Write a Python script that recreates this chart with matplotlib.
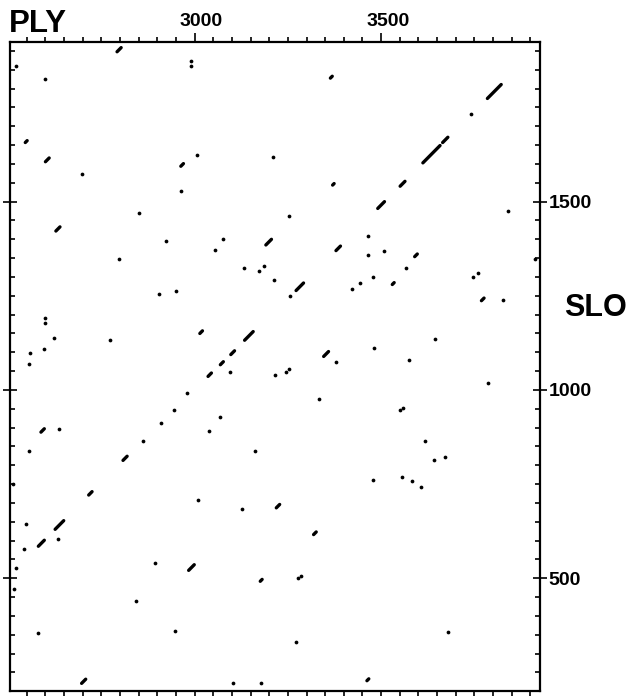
import matplotlib
matplotlib.use("Agg")
import matplotlib.pyplot as plt
from matplotlib.ticker import MultipleLocator, FixedLocator
from matplotlib.transforms import ScaledTranslation

plt.rcParams['font.family'] = ['Liberation Sans', 'DejaVu Sans']

# diagonal matches: start position (PLY, SLO) and length in residues
seg_x = [2792, 2600, 2963, 2628, 3191, 3785, 3612, 3665, 3551, 3491,
         3379, 3590, 3014, 3134, 3097, 3069, 3036, 2588, 2808, 3272,
         3530, 3769, 3346, 2716, 3219, 2626, 2581, 3319, 2984, 2697,
         3462, 2546, 3364, 3176, 3370]
seg_y = [1898, 1606, 1594, 1422, 1385, 1774, 1603, 1657, 1541, 1482,
         1370, 1354, 1150, 1132, 1094, 1067, 1036, 888, 813, 1264,
         1280, 1237, 1089, 721, 687, 630, 585, 616, 521, 221,
         228, 1657, 1828, 492, 1544]
seg_len = [11, 10, 7, 11, 15, 37, 46, 14, 13, 18,
           12, 7, 7, 23, 10, 8, 9, 9, 11, 20,
           5, 7, 13, 9, 9, 23, 16, 7, 15, 11,
           5, 5, 5, 5, 4]

# single-point matches
dot_x = [2522, 2991, 2990, 2600, 2699, 3007, 3211, 2964, 2850, 2922,
         3075, 3054, 2798, 3740, 3840, 3254, 3464, 3466, 3509, 3913,
         3133, 3172, 3187, 3212, 2904, 2949, 2600, 2599, 2622, 2772,
         2595, 2559, 2556, 3095, 3216, 2979, 2944, 2910, 3067, 2636,
         3038, 2861, 2556, 3162, 3256, 3443, 3423, 3479, 3568, 3746,
         3759, 3826, 3645, 3481, 3378, 3576, 3246, 3254, 3787, 3333,
         3550, 3560, 3617, 3642, 3672, 2514, 3479, 3556, 3582, 3608,
         3010, 3126, 2549, 2633, 2542, 2522, 2894, 3276, 3284, 2517,
         2844, 2579, 2948, 3273, 3679, 3103, 3178]
dot_y = [1861, 1874, 1859, 1825, 1574, 1623, 1619, 1527, 1471, 1396,
         1400, 1372, 1348, 1732, 1475, 1461, 1409, 1358, 1369, 1348,
         1324, 1315, 1329, 1293, 1254, 1262, 1191, 1177, 1138, 1133,
         1110, 1098, 1070, 1047, 1039, 991, 946, 913, 929, 897,
         891, 864, 838, 838, 1249, 1285, 1268, 1299, 1323, 1299,
         1310, 1240, 1135, 1112, 1075, 1080, 1047, 1056, 1018, 975,
         947, 952, 864, 815, 821, 750, 761, 769, 757, 742,
         707, 683, 644, 603, 577, 527, 541, 500, 507, 471,
         439, 356, 360, 332, 357, 222, 221]

x_major = [3000, 3500]
y_major = [500, 1000, 1500]

fig = plt.figure(figsize=(6.29, 6.96), dpi=100)
ax = fig.add_axes([0.0159, 0.0079, 0.8426, 0.9318])

for x0, y0, n in zip(seg_x, seg_y, seg_len):
    ax.plot([x0, x0 + n], [y0, y0 + n], color='black', lw=2.4,
            solid_capstyle='round')
ax.plot(dot_x, dot_y, 'o', color='black', ms=2.7, mec='none')

ax.set_xlim(2505, 3926)
ax.set_ylim(202, 1924)

for s in ax.spines.values():
    s.set_linewidth(1.6)

ax.xaxis.set_major_locator(FixedLocator(x_major))
ax.xaxis.set_minor_locator(MultipleLocator(50))
ax.yaxis.set_major_locator(FixedLocator(y_major))
ax.yaxis.set_minor_locator(MultipleLocator(50))

ax.tick_params(axis='x', which='both', top=True, bottom=True,
               labeltop=True, labelbottom=False, direction='out', width=1.2)
ax.tick_params(axis='x', which='major', length=6.5, pad=2, labelsize=14)
ax.tick_params(axis='x', which='minor', length=3.5)
ax.tick_params(axis='y', which='both', left=True, right=True,
               labelleft=False, labelright=True, width=1.2)
ax.tick_params(axis='y', which='major', direction='inout', length=10,
               pad=1, labelsize=14)
ax.tick_params(axis='y', which='minor', direction='in', length=3.5)

for lab in ax.get_xticklabels() + ax.get_yticklabels():
    lab.set_fontweight('bold')
shift = ScaledTranslation(5 / 72, 0, fig.dpi_scale_trans)
for lab in ax.get_xticklabels(which='major'):
    lab.set_transform(lab.get_transform() + shift)

fig.text(9 / 629, 1 - 32 / 696, 'PLY', fontsize=22.5, fontweight='bold',
         va='baseline', ha='left')
fig.text(564 / 629, 1 - 308 / 696, 'SLO', fontsize=22, fontweight='bold',
         va='center', ha='left')

fig.savefig('out.png', dpi=100, facecolor='white')
